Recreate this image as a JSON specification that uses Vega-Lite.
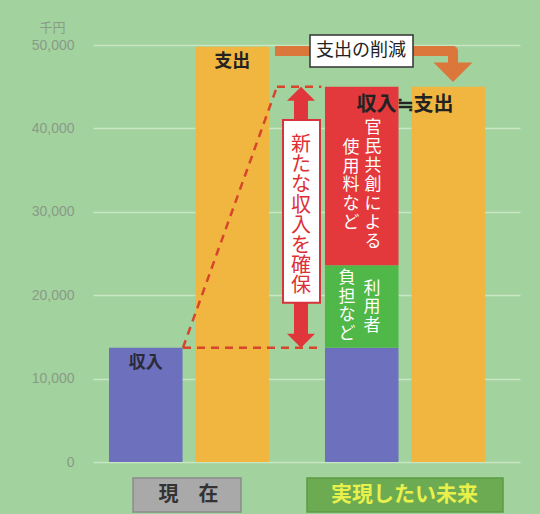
{
  "$schema": "https://vega.github.io/schema/vega-lite/v6.json",
  "width": 427,
  "height": 417,
  "autosize": {"type": "none"},
  "padding": {"left": 93, "top": 45, "right": 20, "bottom": 52},
  "background": "#a2d29d",
  "config": {"view": {"stroke": null}, "font": "Noto Sans CJK JP"},
  "datasets": {
    "bars": [
      {"時期": "現在", "区分": "収入", "項目": "収入", "順": 1, "金額": 13700},
      {"時期": "現在", "区分": "支出", "項目": "支出", "順": 1, "金額": 49800},
      {"時期": "実現したい未来", "区分": "収入", "項目": "収入", "順": 1, "金額": 13700},
      {"時期": "実現したい未来", "区分": "収入", "項目": "利用者負担など", "順": 2, "金額": 9900},
      {"時期": "実現したい未来", "区分": "収入", "項目": "官民共創による使用料など", "順": 3, "金額": 21400},
      {"時期": "実現したい未来", "区分": "支出", "項目": "支出", "順": 1, "金額": 45000}
    ]
  },
  "layer": [
    {
      "layer": [
        {
          "data": {"name": "bars"},
          "mark": {"type": "bar"},
          "encoding": {
            "x": {"field": "時期", "type": "nominal", "scale": {"domain": ["現在", "実現したい未来"], "paddingInner": 0.259, "paddingOuter": 0.118, "align": 0.314}, "axis": null},
            "xOffset": {"field": "区分", "type": "nominal", "scale": {"domain": ["収入", "支出"], "paddingInner": 0.15, "paddingOuter": 0}},
            "y": {"field": "金額", "type": "quantitative", "stack": "zero", "scale": {"domain": [0, 50000], "nice": false},
              "axis": {"values": [0, 10000, 20000, 30000, 40000, 50000], "format": ",d", "domain": false, "ticks": false, "tickSize": 0, "labelPadding": 19, "labelColor": "#8a9a88", "labelFont": "Liberation Sans", "labelFontSize": 14, "grid": true, "gridColor": "#c9e6c4", "gridWidth": 1.5, "title": "千円", "titleAngle": 0, "titleX": -41, "titleY": -18, "titleAlign": "center", "titleBaseline": "middle", "titleColor": "#8a9a88", "titleFont": "Noto Sans CJK JP", "titleFontSize": 13, "titleFontWeight": "normal"}},
            "color": {"field": "項目", "type": "nominal", "scale": {"domain": ["収入", "利用者負担など", "官民共創による使用料など", "支出"], "range": ["#6c70bd", "#50b848", "#e3393c", "#f1b640"]}, "legend": null},
            "order": {"field": "順", "type": "quantitative"}
          }
        },
        {
          "data": {"values": [{}]},
          "mark": {"type": "text", "fontWeight": "bold", "fontSize": 18, "color": "#222222", "baseline": "middle", "align": "center"},
          "encoding": {"x": {"datum": "現在", "axis": null}, "xOffset": {"datum": "支出"}, "y": {"datum": 48000, "type": "quantitative", "axis": null}, "text": {"value": "支出"}}
        },
        {
          "data": {"values": [{}]},
          "mark": {"type": "text", "fontWeight": "bold", "fontSize": 17, "color": "#2a2a38", "baseline": "middle", "align": "center"},
          "encoding": {"x": {"datum": "現在", "axis": null}, "xOffset": {"datum": "収入"}, "y": {"datum": 11900, "type": "quantitative", "axis": null}, "text": {"value": "収入"}}
        },
        {
          "data": {"values": [{}]},
          "mark": {"type": "text", "fontWeight": "bold", "fontSize": 20, "color": "#222222", "baseline": "middle", "align": "center"},
          "encoding": {"x": {"datum": "実現したい未来", "axis": null}, "y": {"datum": 42800, "type": "quantitative", "axis": null}, "text": {"value": "収入≒支出"}}
        }
      ],
      "resolve": {"axis": {"y": "independent"}}
    },
    {
      "data": {"values": [{}]},
      "layer": [
        {
          "mark": {"type": "rule", "stroke": "#d6452c", "strokeWidth": 2.5, "strokeDash": [8, 6]},
          "encoding": {"x": {"datum": 0.9745, "type": "quantitative", "scale": {"domain": [0.5579, 2.5347], "nice": false, "zero": false}, "axis": null}, "x2": {"datum": 1.4097}, "y": {"datum": 13700, "type": "quantitative", "axis": null}, "y2": {"datum": 45000}}
        },
        {
          "mark": {"type": "rule", "stroke": "#d6452c", "strokeWidth": 2.5, "strokeDash": [8, 6]},
          "encoding": {"x": {"datum": 1.4097, "type": "quantitative", "axis": null}, "x2": {"datum": 1.615}, "y": {"datum": 45000, "type": "quantitative", "axis": null}}
        },
        {
          "mark": {"type": "rule", "stroke": "#d6452c", "strokeWidth": 2.5, "strokeDash": [8, 6]},
          "encoding": {"x": {"datum": 0.9745, "type": "quantitative", "axis": null}, "x2": {"datum": 1.615}, "y": {"datum": 13700, "type": "quantitative", "axis": null}}
        },
        {
          "mark": {"type": "rule", "stroke": "#e0363b", "strokeWidth": 14},
          "encoding": {"x": {"datum": 1.5208, "type": "quantitative", "axis": null}, "y": {"datum": 43500, "type": "quantitative", "axis": null}, "y2": {"datum": 15300}}
        },
        {
          "mark": {"type": "point", "shape": "M0,0L-1,1L1,1Z", "size": 784, "filled": true, "color": "#e0363b", "opacity": 1, "strokeWidth": 0},
          "encoding": {"x": {"datum": 1.5208, "type": "quantitative", "axis": null}, "y": {"datum": 45000, "type": "quantitative", "axis": null}}
        },
        {
          "mark": {"type": "point", "shape": "M0,0L-1,-1L1,-1Z", "size": 784, "filled": true, "color": "#e0363b", "opacity": 1, "strokeWidth": 0},
          "encoding": {"x": {"datum": 1.5208, "type": "quantitative", "axis": null}, "y": {"datum": 13700, "type": "quantitative", "axis": null}}
        },
        {
          "mark": {"type": "rect", "fill": "#ffffff", "stroke": "#d8323a", "strokeWidth": 2},
          "encoding": {"x": {"datum": 1.4375, "type": "quantitative", "axis": null}, "x2": {"datum": 1.6088}, "y": {"datum": 41000, "type": "quantitative", "axis": null}, "y2": {"datum": 19100}}
        },
        {
          "mark": {"type": "text", "fontSize": 20, "lineHeight": 20.2, "lineBreak": "\n", "color": "#dd2f36", "baseline": "middle", "align": "center"},
          "encoding": {"x": {"datum": 1.5208, "type": "quantitative", "axis": null}, "y": {"datum": 38010, "type": "quantitative", "axis": null}, "text": {"value": "新\nた\nな\n収\n入\nを\n確\n保"}}
        },
        {
          "mark": {"type": "rule", "stroke": "#db773a", "strokeWidth": 10, "strokeCap": "butt"},
          "encoding": {"x": {"datum": 1.4005, "type": "quantitative", "axis": null}, "x2": {"datum": 2.2245}, "y": {"datum": 49281, "type": "quantitative", "axis": null}}
        },
        {
          "mark": {"type": "rule", "stroke": "#db773a", "strokeWidth": 10, "strokeCap": "round"},
          "encoding": {"x": {"datum": 2.2245, "type": "quantitative", "axis": null}, "y": {"datum": 49281, "type": "quantitative", "axis": null}, "y2": {"datum": 47300}}
        },
        {
          "mark": {"type": "point", "shape": "M0,0L-1,-1L1,-1Z", "size": 1521, "filled": true, "color": "#db773a", "opacity": 1, "strokeWidth": 0},
          "encoding": {"x": {"datum": 2.2245, "type": "quantitative", "axis": null}, "y": {"datum": 45564, "type": "quantitative", "axis": null}}
        },
        {
          "mark": {"type": "rect", "fill": "#ffffff", "stroke": "#333333", "strokeWidth": 1.5},
          "encoding": {"x": {"datum": 1.5625, "type": "quantitative", "axis": null}, "x2": {"datum": 2.0394}, "y": {"datum": 51199, "type": "quantitative", "axis": null}, "y2": {"datum": 47362}}
        },
        {
          "mark": {"type": "text", "fontSize": 18, "color": "#222222", "baseline": "middle", "align": "center"},
          "encoding": {"x": {"datum": 1.7986, "type": "quantitative", "axis": null}, "y": {"datum": 49281, "type": "quantitative", "axis": null}, "text": {"value": "支出の削減"}}
        },
        {
          "mark": {"type": "text", "fontSize": 17, "lineHeight": 19, "lineBreak": "\n", "color": "#ffffff", "baseline": "middle", "align": "center"},
          "encoding": {"x": {"datum": 1.8542, "type": "quantitative", "axis": null}, "y": {"datum": 40048, "type": "quantitative", "axis": null}, "text": {"value": "官\n民\n共\n創\nに\nよ\nる"}}
        },
        {
          "mark": {"type": "text", "fontSize": 17, "lineHeight": 18.7, "lineBreak": "\n", "color": "#ffffff", "baseline": "middle", "align": "center"},
          "encoding": {"x": {"datum": 1.7523, "type": "quantitative", "axis": null}, "y": {"datum": 37650, "type": "quantitative", "axis": null}, "text": {"value": "使\n用\n料\nな\nど"}}
        },
        {
          "mark": {"type": "text", "fontSize": 17, "lineHeight": 18.5, "lineBreak": "\n", "color": "#ffffff", "baseline": "middle", "align": "center"},
          "encoding": {"x": {"datum": 1.8495, "type": "quantitative", "axis": null}, "y": {"datum": 20803, "type": "quantitative", "axis": null}, "text": {"value": "利\n用\n者"}}
        },
        {
          "mark": {"type": "text", "fontSize": 17, "lineHeight": 18.5, "lineBreak": "\n", "color": "#ffffff", "baseline": "middle", "align": "center"},
          "encoding": {"x": {"datum": 1.7338, "type": "quantitative", "axis": null}, "y": {"datum": 22003, "type": "quantitative", "axis": null}, "text": {"value": "負\n担\nな\nど"}}
        },
        {
          "mark": {"type": "rect", "fill": "#a9a9a9", "stroke": "#8c8c8c", "strokeWidth": 1.5},
          "encoding": {"x": {"datum": 0.7431, "type": "quantitative", "axis": null}, "x2": {"datum": 1.2431}, "y": {"datum": -1918, "type": "quantitative", "axis": null}, "y2": {"datum": -5995}}
        },
        {
          "mark": {"type": "rect", "fill": "#6cab52", "stroke": "#5c9a45", "strokeWidth": 1.5},
          "encoding": {"x": {"datum": 1.5486, "type": "quantitative", "axis": null}, "x2": {"datum": 2.456}, "y": {"datum": -1918, "type": "quantitative", "axis": null}, "y2": {"datum": -5995}}
        },
        {
          "mark": {"type": "text", "fontSize": 20, "fontWeight": "bold", "color": "#333333", "baseline": "middle", "align": "center"},
          "encoding": {"x": {"datum": 1.0, "type": "quantitative", "axis": null}, "y": {"datum": -3957, "type": "quantitative", "axis": null}, "text": {"value": "現　在"}}
        },
        {
          "mark": {"type": "text", "fontSize": 21, "fontWeight": "bold", "color": "#e8f04c", "baseline": "middle", "align": "center"},
          "encoding": {"x": {"datum": 2.0, "type": "quantitative", "axis": null}, "y": {"datum": -3957, "type": "quantitative", "axis": null}, "text": {"value": "実現したい未来"}}
        }
      ],
      "resolve": {"axis": {"y": "independent"}}
    }
  ],
  "resolve": {"scale": {"x": "independent"}, "axis": {"y": "independent"}}
}
